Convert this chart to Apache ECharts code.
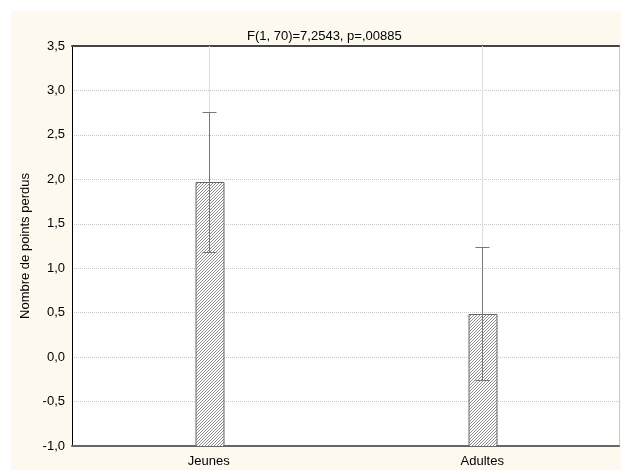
<!DOCTYPE html>
<html>
<head>
<meta charset="utf-8">
<script src="https://cdn.jsdelivr.net/npm/echarts@6/dist/echarts.min.js"></script>
<style>html,body{margin:0;padding:0;background:#fff;}#c{width:621px;height:470px;}</style>
</head>
<body>
<div id="c"></div>
<script>
const titleText = 'F(1, 70)=7,2543, p=,00885';
const yName = 'Nombre de points perdus';
const categories = ['Jeunes', 'Adultes'];
const means = [1.97, 0.49];
const upper = [2.76, 1.24];
const lower = [1.18, -0.26];
const yMin = -1.0;
const yMax = 3.5;
const yStep = 0.5;

function makeHatch() {
  const s = 3;
  const c = document.createElement('canvas');
  c.width = s; c.height = s;
  const ctx = c.getContext('2d');
  ctx.fillStyle = '#ffffff';
  ctx.fillRect(0, 0, s, s);
  ctx.fillStyle = '#8c8c8c';
  for (let i = 0; i < s; i++) ctx.fillRect(i, s - 1 - i, 1, 1);
  return c;
}
const hatch = makeHatch();

const data = categories.map((c, i) => [i, means[i], lower[i], upper[i]]);
const font = 'Liberation Sans, Arial, sans-serif';

const chart = echarts.init(document.getElementById('c'), null, {renderer: 'canvas'});
chart.setOption({
  animation: false,
  backgroundColor: '#ffffff',
  graphic: [{
    type: 'rect', left: 11, top: 11, z: -10,
    shape: {width: 610, height: 459},
    style: {fill: '#fef9ee'}
  }],
  title: {
    text: titleText, left: 242, top: 25,
    textStyle: {fontFamily: font, fontSize: 13, fontWeight: 'normal', color: '#000'}
  },
  grid: {left: 72, right: 2, top: 46, bottom: 24, backgroundColor: '#ffffff', show: true, borderWidth: 0},
  xAxis: [{
    type: 'category', data: categories, position: 'bottom',
    axisLine: {onZero: false, lineStyle: {color: '#666', width: 2}},
    axisTick: {show: true, alignWithLabel: true, inside: true, length: 3, lineStyle: {color: '#444'}},
    axisLabel: {fontFamily: font, fontSize: 13, color: '#000', margin: 9},
    splitLine: {show: false}
  }, {
    type: 'category', data: categories, position: 'top',
    axisLine: {onZero: false, lineStyle: {color: '#444', width: 2}},
    axisTick: {show: false}, axisLabel: {show: false}, splitLine: {show: false}
  }],
  yAxis: [{
    type: 'value', min: yMin, max: yMax, interval: yStep,
    name: yName, nameLocation: 'middle', nameGap: 34, nameRotate: 90,
    nameTextStyle: {fontFamily: font, fontSize: 13, color: '#000'},
    axisLine: {show: true, onZero: false, lineStyle: {color: '#000', width: 1}},
    axisTick: {show: false},
    axisLabel: {fontFamily: font, fontSize: 13, color: '#000', margin: 7,
      formatter: v => v.toFixed(1).replace('.', ',')},
    splitLine: {show: true, lineStyle: {color: '#c8c8c8', type: 'dotted', width: 1}}
  }, {
    type: 'value', min: yMin, max: yMax, interval: yStep, position: 'right',
    axisLine: {show: true, onZero: false, lineStyle: {color: '#cccccc', width: 1}},
    axisTick: {show: false}, axisLabel: {show: false}, splitLine: {show: false}
  }],
  series: [{
    type: 'custom',
    xAxisIndex: 0, yAxisIndex: 0,
    data: data,
    encode: {x: 0, y: [1, 2, 3]},
    renderItem: function (params, api) {
      const x = api.value(0);
      const m = api.value(1), lo = api.value(2), hi = api.value(3);
      const pBase = api.coord([x, yMin]);
      const pTopAxis = api.coord([x, yMax]);
      const pMean = api.coord([x, m]);
      const pLo = api.coord([x, lo]);
      const pHi = api.coord([x, hi]);
      const bw = api.size([1, 0])[0] * 0.102;
      const cx = Math.round(pBase[0]) + 0.5;
      const cap = 7;
      return {
        type: 'group',
        children: [
          {type: 'line', shape: {x1: cx, y1: pBase[1], x2: cx, y2: pTopAxis[1]},
            style: {stroke: '#dddddd', lineWidth: 1}},
          {type: 'rect', shape: {x: Math.round(cx - bw / 2), y: Math.round(pMean[1]) + 0.5, width: Math.round(bw), height: Math.round(pBase[1] - pMean[1])},
            style: {fill: {image: hatch, repeat: 'repeat'}, stroke: '#666666', lineWidth: 1}},
          {type: 'line', shape: {x1: cx, y1: Math.round(pHi[1]) + 0.5, x2: cx, y2: Math.round(pLo[1]) + 0.5},
            style: {stroke: '#777777', lineWidth: 1}},
          {type: 'line', shape: {x1: cx - cap, y1: Math.round(pHi[1]) + 0.5, x2: cx + cap, y2: Math.round(pHi[1]) + 0.5},
            style: {stroke: '#777777', lineWidth: 1}},
          {type: 'line', shape: {x1: cx - cap, y1: Math.round(pLo[1]) + 0.5, x2: cx + cap, y2: Math.round(pLo[1]) + 0.5},
            style: {stroke: '#777777', lineWidth: 1}}
        ]
      };
    }
  }]
});
</script>
</body>
</html>
